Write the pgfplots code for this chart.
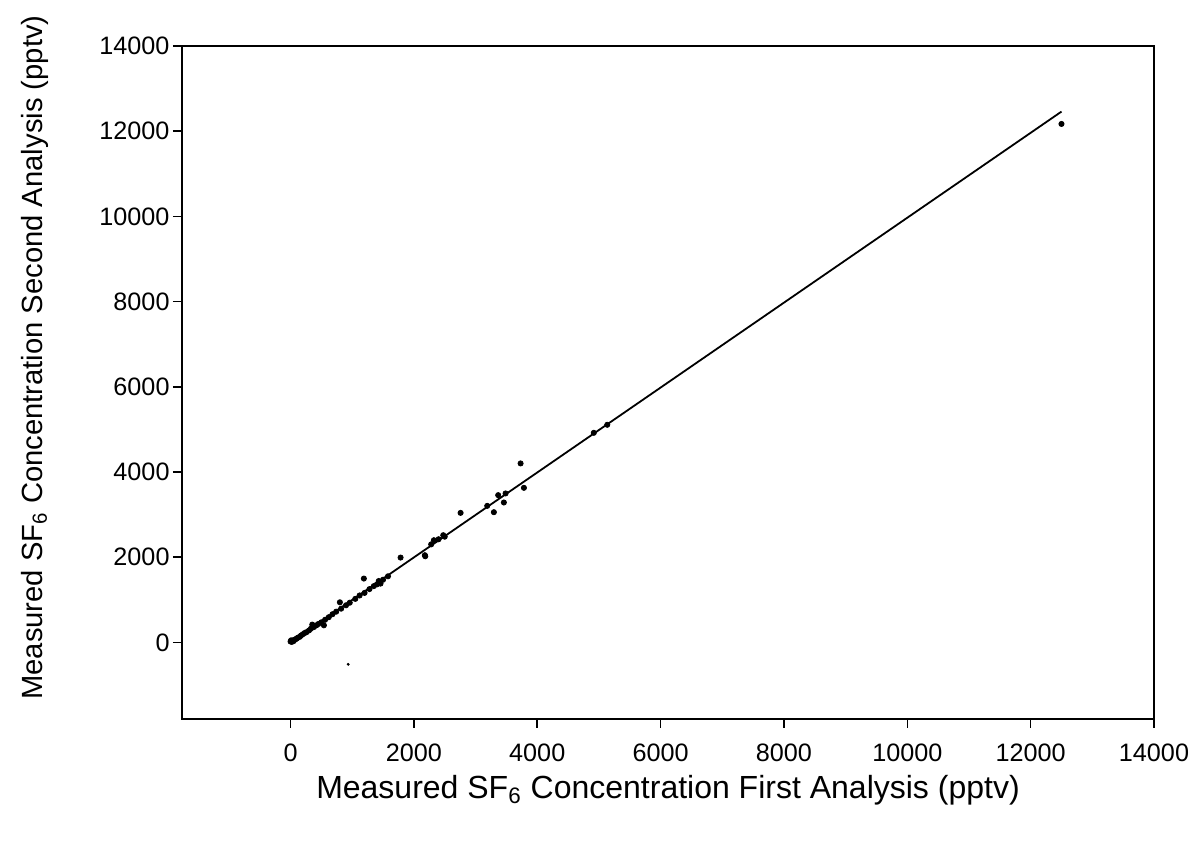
\documentclass[border=0pt]{standalone}
\usepackage{pgfplots}
\pgfplotsset{compat=1.18}
\usepackage{fontspec}
\setmainfont{Liberation Sans}
\begin{document}
\begin{tikzpicture}
\begin{axis}[
  scale only axis,
  width=486pt, height=336.5pt,
  xmin=-1760, xmax=14000,
  ymin=-1800, ymax=14000,
  xtick={0,2000,...,14000},
  ytick={0,2000,...,14000},
  xtick pos=bottom, ytick pos=left,
  tick align=outside,
  major tick length=4.5pt,
  tick style={black, line width=0.8pt},
  axis line style={line width=1pt},
  /pgf/number format/assume math mode=true,
  scaled ticks=false,
  ticklabel style={font=\fontsize{12.6}{14}\selectfont},
  xticklabel style={/pgf/number format/.cd, set thousands separator={}, fixed},
  yticklabel style={/pgf/number format/.cd, set thousands separator={}, fixed},
  xticklabel shift=4.2pt,
  yticklabel shift=-1.8pt,
  xlabel={Measured SF\textsubscript{6} Concentration First Analysis (pptv)},
  ylabel={Measured SF\textsubscript{6} Concentration Second Analysis (pptv)},
  xlabel style={font=\fontsize{16}{18}\selectfont, at={(axis description cs:0.5,-0.1055)}, anchor=center},
  ylabel style={font=\fontsize{14.6}{17}\selectfont, at={(axis description cs:-0.1512,0.537)}, anchor=center, rotate=0},
  clip=false,
]
\addplot[black, line width=0.9pt, no marks] coordinates {(0,0) (12500,12460)};
\addplot[only marks, mark=*, mark size=1.3pt, black] coordinates {
(0,20)(10,47)(20,10)(30,35)(50,30)(60,60)(80,70)(100,90)(120,110)(150,130)
(170,160)(200,190)(230,220)(260,240)(300,280)(330,320)(352,416)(380,360)
(420,400)(450,430)(500,470)(541,400)(560,530)(620,590)(680,660)(740,720)
(800,940)(820,790)(900,870)(960,930)(1050,1020)(1120,1100)(1189,1497)
(1200,1160)(1280,1250)(1350,1320)(1400,1360)(1459,1379)(1430,1440)
(1500,1470)(1580,1550)(1784,1990)(2178,2045)(2184,2021)(2280,2300)
(2324,2397)(2400,2420)(2476,2515)(2500,2480)(2757,3039)(3189,3204)
(3297,3055)(3367,3455)(3459,3283)(3486,3495)(3730,4200)(3784,3627)
(4917,4919)(5135,5107)(12500,12170)
};
\addplot[only marks, mark=*, mark size=0.5pt, black] coordinates {(935,-517)};
\end{axis}
\path[use as bounding box] (current axis.south west) ++(-91pt,-63.5pt) rectangle ([xshift=23.5pt,yshift=23pt]current axis.north east);
\end{tikzpicture}
\end{document}
